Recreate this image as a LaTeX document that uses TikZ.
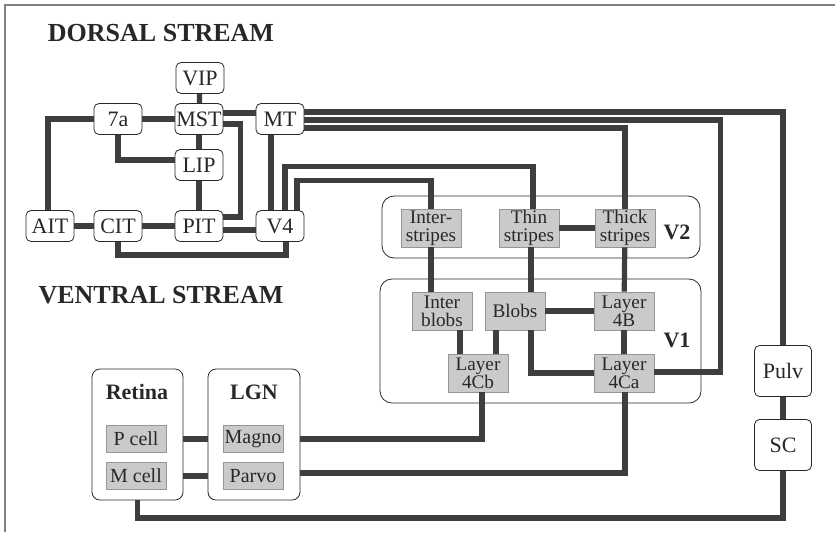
\documentclass[tikz,border=0pt]{standalone}
\usepackage{fontspec}
\setmainfont{Liberation Serif}
\usepackage{xcolor}
\usepackage{tikz}
\usetikzlibrary{calc}
\definecolor{inkdark}{RGB}{40,40,40}
\definecolor{conngray}{RGB}{62,62,62}
\definecolor{boxgray}{RGB}{202,202,202}
\definecolor{edgegray}{RGB}{150,150,150}
\tikzset{
  frame/.style={draw=gray, line width=0.8pt},
  conn/.style={draw=conngray, line width=2.6pt},
  title/.style={text=inkdark, font=\fontsize{13}{15}\selectfont\bfseries},
  area/.style={draw=inkdark, fill=white, rectangle, rounded corners=2.5pt, text=inkdark, minimum width=24pt, minimum height=15.5pt, inner sep=0pt, font=\fontsize{11}{12}\selectfont},
  bigarea/.style={area, minimum width=28.5pt, minimum height=25.5pt},
  layer/.style={draw=edgegray, fill=boxgray, rectangle, align=center, text=inkdark, minimum width=30pt, minimum height=19pt, inner sep=0pt, font=\fontsize{9.6}{9}\selectfont},
  cell/.style={layer, minimum height=13.5pt, font=\fontsize{10}{11}\selectfont},
  group/.style={draw=inkdark, rectangle, rounded corners=6pt},
  grouplabel/.style={text=inkdark, font=\fontsize{11}{12}\selectfont\bfseries}
}

\begin{document}
\begin{tikzpicture}[x=0.5pt, y=-0.5pt]
  \useasboundingbox (0,0) rectangle (835,532);
  \draw [frame] (835,5) -- (5,5) -- (5,532);

  % Stream titles
  \node [title] (dorsal) at (161,33) {DORSAL STREAM};
  \node [title] (ventral) at (161,295) {VENTRAL STREAM};

  % Cortical areas (left)
  \node [area] (vip) at (200,78) {VIP};
  \node [area] (sev) at (118,119) {7a};
  \node [area] (mst) at (199,119) {MST};
  \node [area] (mt) at (280,119) {MT};
  \node [area] (lip) at (199,165) {LIP};
  \node [area] (ait) at (50,226) {AIT};
  \node [area] (cit) at (118,226) {CIT};
  \node [area] (pit) at (199,226) {PIT};
  \node [area] (vfour) at (280,226) {V4};

  % V2 and V1 (middle)
  \node [group, minimum width=159pt, minimum height=31pt] (vtwo) at (541,227) {};
  \node [grouplabel] (vtwolbl) at (677,232) {V2};
  \node [layer] (istr) at (431,228) {Inter-\\stripes};
  \node [layer] (thin) at (529,228) {Thin\\stripes};
  \node [layer] (thick) at (625,228) {Thick\\stripes};

  \node [group, minimum width=160.5pt, minimum height=62pt] (vone) at (540.5,341) {};
  \node [grouplabel] (vonelbl) at (677,340) {V1};
  \node [layer] (iblob) at (442,311) {Inter\\blobs};
  \node [layer] (blobs) at (515,311) {Blobs};
  \node [layer] (lfb) at (624,311) {Layer\\4B};
  \node [layer] (lcb) at (478,373) {Layer\\4Cb};
  \node [layer] (lca) at (624,373) {Layer\\4Ca};

  % Subcortical (right)
  \node [bigarea] (pulv) at (783,371) {Pulv};
  \node [bigarea] (sc) at (783,445) {SC};

  % Retina and LGN (bottom)
  \node [group, rounded corners=4pt, minimum width=45.5pt, minimum height=65.5pt] (retina) at (137.5,434.5) {};
  \node [grouplabel] (retinalbl) at (137,392) {Retina};
  \node [cell] (pcell) at (136,439) {P cell};
  \node [cell] (mcell) at (136,476) {M cell};
  \node [group, rounded corners=4pt, minimum width=46pt, minimum height=65.5pt] (lgn) at (254,434.5) {};
  \node [grouplabel] (lgnlbl) at (254,392) {LGN};
  \node [cell] (magno) at (253,439) {Magno};
  \node [cell] (parvo) at (253,476) {Parvo};

  % Dorsal and ventral links
  \draw [conn] (vip) -- (mst);
  \draw [conn] (sev) -- (mst);
  \draw [conn] ($(mst.east)+(0,-6)$) -- ($(mt.west)+(0,-6)$);
  \draw [conn] ($(mst.east)+(0,5)$) -- ++(17,0) |- ($(pit.east)+(0,-9)$);
  \draw [conn] (mst) -- (lip);
  \draw [conn] (lip) -- (pit);
  \draw [conn] (sev.south) |- ($(lip.west)+(0,-5)$);
  \draw [conn] ($(ait.north)+(-2,0)$) |- (sev.west);
  \draw [conn] (ait) -- (cit);
  \draw [conn] (cit) -- (pit);
  \draw [conn] ($(pit.east)+(0,4)$) -- ($(vfour.west)+(0,4)$);
  \draw [conn] (cit.south) -- ++(0,13) -| ($(vfour.south)+(6,0)$);
  \draw [conn] ($(mt.south)+(-9,0)$) -- ($(vfour.north)+(-9,0)$);

  % V4 and MT to V2, V1 and Pulv
  \draw [conn] ($(vfour.north)+(5,0)$) |- ($(thin.north)+(4,-42)$) -- ($(thin.north)+(4,0)$);
  \draw [conn] ($(vfour.north)+(17,0)$) |- ($(istr.north)+(0,-28)$) -- (istr.north);
  \draw [conn] ($(mt.east)+(0,-7)$) -| (pulv.north);
  \draw [conn] ($(mt.east)+(0,1)$) -| ($(lca.east)+(66,-1)$) -- ($(lca.east)+(0,-1)$);
  \draw [conn] ($(mt.east)+(0,9)$) -| (thick.north);

  % Inside V2 and V1
  \draw [conn] (thin) -- (thick);
  \draw [conn] (istr.south) -- (iblob.north -| istr.south);
  \draw [conn] ($(thin.south)+(2,0)$) -- ($(blobs.north)+(16,0)$);
  \draw [conn] (thick) -- (lfb);
  \draw [conn] (blobs) -- (lfb);
  \draw [conn] ($(iblob.south)+(18,0)$) -- ($(lcb.north)+(-18,0)$);
  \draw [conn] ($(blobs.south)+(-19,0)$) -- ($(lcb.north)+(18,0)$);
  \draw [conn] ($(blobs.south)+(16,0)$) |- (lca.west);
  \draw [conn] (lfb) -- (lca);

  % Retina, LGN and SC
  \draw [conn] (retina.east |- pcell) -- (lgn.west |- magno);
  \draw [conn] (retina.east |- mcell) -- (lgn.west |- parvo);
  \draw [conn] ($(lcb.south)+(4,0)$) |- (lgn.east |- magno);
  \draw [conn] ($(lca.south)+(1,0)$) |- ($(lgn.east |- parvo)+(0,-3)$);
  \draw [conn] (pulv) -- (sc);
  \draw [conn] (sc.south) -- ++(0,47) -| (retina.south);
\end{tikzpicture}
\end{document}
